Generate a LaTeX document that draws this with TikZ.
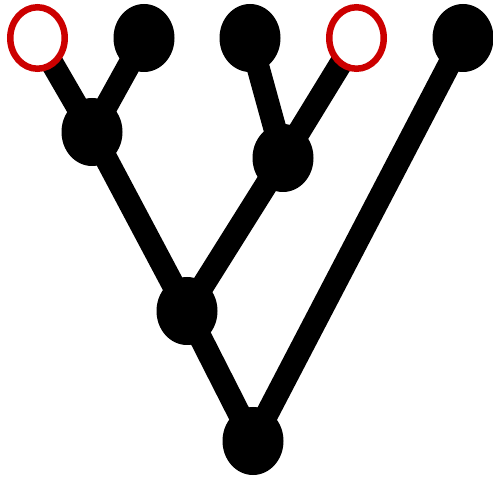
\documentclass[tikz,border=0pt]{standalone}
\usepackage{xcolor}
\usetikzlibrary{shapes.geometric,backgrounds}
\definecolor{TreeRed}{HTML}{CC0000}
\tikzset{vertex/.style={ellipse,fill=black,inner sep=0pt,minimum width=61pt,minimum height=68pt}, hollow/.style={ellipse,draw=TreeRed,line width=6.5pt,fill=white,inner sep=0pt,minimum width=54.5pt,minimum height=61.5pt}, branch/.style={line width=23pt,draw=black}}
\begin{document}
\begin{tikzpicture}[x=1pt,y=-1pt]
\useasboundingbox (0,0) rectangle (493,478);
\node[hollow] (l1) at (37.5,38) {};
\node[vertex] (l2) at (144,38) {};
\node[vertex] (l3) at (250,38) {};
\node[hollow] (l4) at (356.5,38) {};
\node[vertex] (l5) at (463,38) {};
\node[vertex] (a) at (92,132) {};
\node[vertex] (b) at (283,158) {};
\node[vertex] (c) at (187,311) {};
\node[vertex] (root) at (253,441) {};
\begin{scope}[on background layer]
\foreach \src/\dst in {a/l1,a/l2,b/l3,b/l4,c/a,c/b,root/c,root/l5}{\draw[branch] (\src.center)--(\dst.center);}
\end{scope}
\end{tikzpicture}
\end{document}
